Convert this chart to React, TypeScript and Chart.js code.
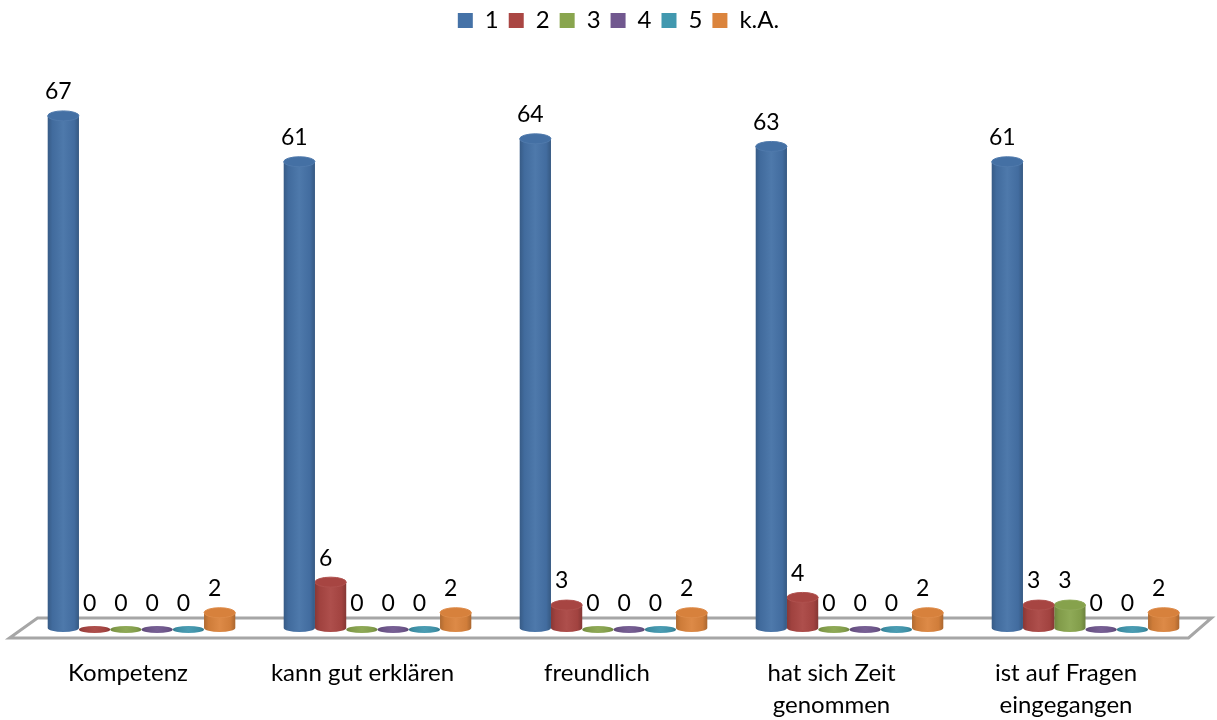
import React, { useEffect, useRef } from "react";
import { Chart, registerables } from "chart.js";

Chart.register(...registerables);

const categories = ["Kompetenz", "kann gut erklären", "freundlich", ["hat sich Zeit", "genommen"], ["ist auf Fragen", "eingegangen"]];
const series1 = [67, 61, 64, 63, 61];
const series2 = [0, 6, 3, 4, 3];
const series3 = [0, 0, 0, 0, 3];
const series4 = [0, 0, 0, 0, 0];
const series5 = [0, 0, 0, 0, 0];
const seriesKA = [2, 2, 2, 2, 2];
const seriesNames = ["1", "2", "3", "4", "5", "k.A."];
const seriesColors = ["#4572A7", "#AA4643", "#89A54E", "#71588F", "#4198AF", "#DB843D"];
const seriesValues = [series1, series2, series3, series4, series5, seriesKA];
const FONT = "Lato, 'Open Sans', sans-serif";

function shade(hex: string, f: number) {
  const n = parseInt(hex.slice(1), 16);
  const c = [(n >> 16) & 255, (n >> 8) & 255, n & 255].map((v) =>
    Math.round(f >= 0 ? v + (255 - v) * f : v * (1 + f))
  );
  return `rgb(${c[0]},${c[1]},${c[2]})`;
}

function sideGradient(ctx: CanvasRenderingContext2D, l: number, r: number, color: string) {
  const g = ctx.createLinearGradient(l, 0, r, 0);
  g.addColorStop(0, shade(color, -0.2));
  g.addColorStop(0.15, shade(color, -0.06));
  g.addColorStop(0.5, shade(color, 0.05));
  g.addColorStop(0.85, shade(color, -0.05));
  g.addColorStop(1, shade(color, -0.22));
  return g;
}

const cylinderPlugin = {
  id: "cylinders",
  afterLayout(chart: any) {
    chart.legend.left += 5;
    chart.legend.right += 5;
  },
  beforeDatasetsDraw(chart: any) {
    const { ctx, chartArea: a } = chart;
    ctx.save();
    ctx.beginPath();
    ctx.moveTo(a.left + 14, a.bottom - 10);
    ctx.lineTo(a.right + 8, a.bottom - 10);
    ctx.lineTo(a.right - 15, a.bottom + 10);
    ctx.lineTo(a.left - 14, a.bottom + 10);
    ctx.closePath();
    ctx.strokeStyle = "#a6a6a6";
    ctx.lineWidth = 3;
    ctx.stroke();
    ctx.restore();
  },
  beforeDatasetDraw(chart: any, args: any) {
    const { ctx } = chart;
    const meta = args.meta;
    const color = seriesColors[args.index];
    meta.data.forEach((el: any, i: number) => {
      const value = seriesValues[args.index][i];
      const rx = el.width / 2;
      const base = el.base;
      const l = el.x - rx;
      const r = el.x + rx;
      ctx.save();
      if (value === 0) {
        ctx.beginPath();
        ctx.ellipse(el.x, base + 1.5, rx, 3.6, 0, 0, Math.PI * 2);
        ctx.fillStyle = sideGradient(ctx, l, r, color);
        ctx.fill();
      } else {
        const ry = 5;
        ctx.beginPath();
        ctx.moveTo(l, el.y);
        ctx.lineTo(l, base);
        ctx.ellipse(el.x, base, rx, ry - 1, 0, Math.PI, 0, true);
        ctx.lineTo(r, el.y);
        ctx.closePath();
        ctx.fillStyle = sideGradient(ctx, l, r, color);
        ctx.fill();
        ctx.beginPath();
        ctx.ellipse(el.x, el.y, rx, ry, 0, 0, Math.PI * 2);
        ctx.fillStyle = shade(color, -0.02);
        ctx.fill();
        ctx.lineWidth = 1;
        ctx.strokeStyle = shade(color, 0.06);
        ctx.stroke();
      }
      ctx.restore();
    });
    return false;
  },
  afterDatasetsDraw(chart: any) {
    const { ctx } = chart;
    ctx.save();
    ctx.font = `23px ${FONT}`;
    ctx.fillStyle = "#000";
    ctx.textAlign = "center";
    ctx.textBaseline = "middle";
    chart.data.datasets.forEach((ds: any, d: number) => {
      chart.getDatasetMeta(d).data.forEach((el: any, i: number) => {
        ctx.fillText(String(ds.data[i]), el.x - 5, el.y - 24);
      });
    });
    ctx.restore();
  },
};

export default function App() {
  const ref = useRef<HTMLCanvasElement>(null);
  useEffect(() => {
    document.body.style.margin = "0";
    const chart = new Chart(ref.current!, {
      type: "bar",
      data: {
        labels: categories as any,
        datasets: seriesNames.map((name, i) => ({
          label: name,
          data: seriesValues[i],
          backgroundColor: seriesColors[i],
          borderWidth: 0,
          categoryPercentage: 0.8,
          barPercentage: 1,
        })),
      },
      options: {
        animation: false,
        responsive: false,
        layout: { padding: { left: 23.5, right: 13.5, top: -1.5, bottom: 0 } },
        plugins: {
          tooltip: { enabled: false },
          legend: {
            position: "top",
            labels: {
              boxWidth: 15,
              boxHeight: 15,
              padding: 10,
              color: "#000",
              font: { family: FONT, size: 24 },
            },
          },
        },
        scales: {
          x: {
            grid: { display: false, drawTicks: false },
            border: { display: false },
            afterDataLimits(scale: any) {
              // axis labels sit on the floor's front edge, which perspective draws narrower
              if (!scale.__shifted) {
                const base = scale.getPixelForTick;
                scale.getPixelForTick = function (i: number) {
                  return base.call(this, i) - 13.5 - 1.5 * i;
                };
                scale.__shifted = true;
              }
            },
            afterFit(scale: any) {
              scale.height = 92;
            },
            ticks: {
              autoSkip: false,
              maxRotation: 0,
              minRotation: 0,
              padding: 29,
              color: "#000",
              font: { family: FONT, size: 24, lineHeight: 1.33 },
            },
          },
          y: { display: false, min: 0, max: 76.6, grid: { display: false } },
        },
      } as any,
      plugins: [cylinderPlugin as any],
    });
    return () => chart.destroy();
  }, []);
  return <canvas ref={ref} width={1217} height={720} style={{ display: "block" }} />;
}
